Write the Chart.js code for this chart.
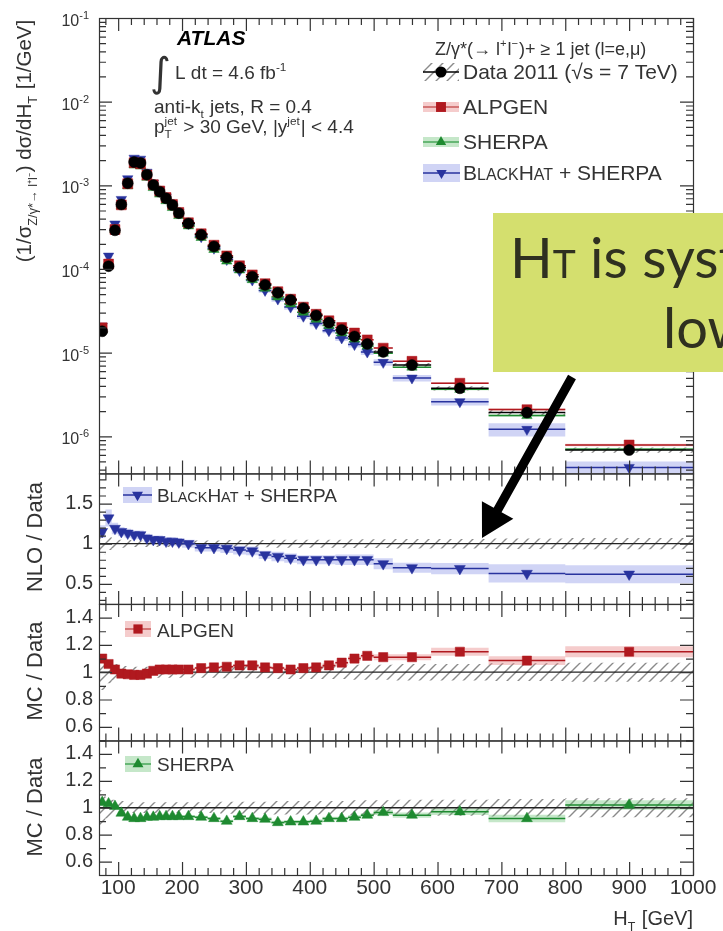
<!DOCTYPE html>
<html>
<head>
<meta charset="utf-8">
<title>HT Z+jets</title>
<script src="https://cdn.jsdelivr.net/npm/chart.js@4.4.1/dist/chart.umd.min.js"></script>
<style>
  html, body { margin: 0; padding: 0; background: #fff; }
  body { width: 723px; height: 931px; overflow: hidden; }
  canvas { display: block; }
</style>
</head>
<body>
<canvas id="grafica" width="723" height="931"></canvas>
<script>
// ===============================
// Datos
const binEdges = [70, 80, 90, 100, 110, 120, 130, 140, 150, 160, 170, 180, 190, 200,
  220, 240, 260, 280, 300, 320, 340, 360, 380, 400, 420, 440, 460, 480, 500,
  530, 590, 680, 800, 1000];
const htCenters = [75, 85, 95, 105, 115, 125, 135, 145, 155, 165, 175, 185, 195,
  210, 230, 250, 270, 290, 310, 330, 350, 370, 390, 410, 430, 450, 470, 490,
  515, 560, 635, 740, 900];
const dataXsec = [1.8e-5, 1.08e-4, 2.9e-4, 5.9e-4, 1.06e-3, 1.9e-3, 1.85e-3, 1.34e-3, 1.01e-3, 8.4e-4, 7.0e-4, 5.8e-4, 4.65e-4,
  3.5e-4, 2.56e-4, 1.86e-4, 1.38e-4, 1.04e-4, 8.1e-5, 6.45e-5, 5.2e-5, 4.27e-5, 3.4e-5, 2.78e-5, 2.29e-5, 1.87e-5, 1.56e-5, 1.27e-5,
  1.02e-5, 7.1e-6, 3.75e-6, 1.92e-6, 6.85e-7];
const dataRelErr = [0.13, 0.08, 0.06, 0.05, 0.045, 0.04, 0.04, 0.04, 0.04, 0.04, 0.04, 0.04, 0.04,
  0.04, 0.04, 0.04, 0.045, 0.045, 0.045, 0.045, 0.05, 0.05, 0.05, 0.05, 0.05, 0.05, 0.055, 0.055,
  0.055, 0.06, 0.06, 0.065, 0.07];
const nloRatio = [1.15, 1.32, 1.19, 1.15, 1.13, 1.11, 1.11, 1.07, 1.05, 1.05, 1.03, 1.03, 1.02,
  1.00, 0.95, 0.95, 0.94, 0.92, 0.91, 0.86, 0.84, 0.82, 0.80, 0.80, 0.80, 0.80, 0.80, 0.80,
  0.75, 0.70, 0.69, 0.63, 0.62];
const nloRelErr = [0.07, 0.08, 0.06, 0.05, 0.05, 0.05, 0.05, 0.05, 0.05, 0.05, 0.05, 0.05, 0.05,
  0.05, 0.05, 0.05, 0.06, 0.06, 0.06, 0.06, 0.07, 0.07, 0.07, 0.07, 0.07, 0.08, 0.08, 0.08,
  0.09, 0.09, 0.1, 0.18, 0.18];
const alpgenRatio = [1.10, 1.06, 1.02, 0.99, 0.985, 0.98, 0.98, 0.99, 1.01, 1.02, 1.02, 1.02, 1.02,
  1.02, 1.03, 1.035, 1.04, 1.05, 1.05, 1.035, 1.03, 1.02, 1.03, 1.035, 1.05, 1.07, 1.10, 1.12,
  1.11, 1.11, 1.15, 1.085, 1.15];
const alpgenRelErr = [0.01, 0.01, 0.01, 0.01, 0.01, 0.01, 0.01, 0.01, 0.01, 0.01, 0.01, 0.01, 0.01,
  0.01, 0.01, 0.01, 0.01, 0.01, 0.01, 0.012, 0.012, 0.012, 0.012, 0.012, 0.015, 0.015, 0.015, 0.015,
  0.02, 0.02, 0.025, 0.03, 0.035];
const sherpaRatio = [1.04, 1.03, 1.01, 0.96, 0.93, 0.92, 0.92, 0.93, 0.93, 0.935, 0.935, 0.935, 0.935,
  0.935, 0.93, 0.92, 0.90, 0.935, 0.92, 0.915, 0.89, 0.895, 0.895, 0.90, 0.92, 0.92, 0.93, 0.945,
  0.965, 0.945, 0.97, 0.92, 1.02];
const sherpaRelErr = [0.01, 0.01, 0.01, 0.01, 0.01, 0.01, 0.01, 0.01, 0.01, 0.01, 0.01, 0.01, 0.01,
  0.012, 0.012, 0.012, 0.012, 0.012, 0.012, 0.015, 0.015, 0.015, 0.015, 0.015, 0.015, 0.015, 0.015, 0.015,
  0.02, 0.02, 0.025, 0.03, 0.035];

// Marcas de los ejes
const xTickValues = [100, 200, 300, 400, 500, 600, 700, 800, 900, 1000];
const logTickValues = [1e-6, 1e-5, 1e-4, 1e-3, 1e-2, 1e-1];
const nloTickValues = [0.5, 1, 1.5];
const mcTickValues = [0.6, 0.8, 1, 1.2, 1.4];

// ===============================
// Estilos
const FAMILIA = '"Liberation Sans", Arial, Helvetica, sans-serif';
const COL = { alp: '#b0191f', she: '#1e8a30', bh: '#28339e', texto: '#333' };
const BANDA = { alp: 'rgba(225,110,110,0.35)', she: 'rgba(90,185,100,0.35)', bh: 'rgba(110,120,225,0.32)' };
const TOP_MIN = 3.6e-7, TOP_MAX = 0.1;

function crearRayado(color, paso, grosor) {
  const c = document.createElement('canvas');
  c.width = c.height = paso;
  const g = c.getContext('2d');
  g.strokeStyle = color;
  g.lineWidth = grosor;
  g.beginPath();
  g.moveTo(0, paso); g.lineTo(paso, 0);
  g.moveTo(-paso / 2, paso / 2); g.lineTo(paso / 2, -paso / 2);
  g.moveTo(paso / 2, paso * 1.5); g.lineTo(paso * 1.5, paso / 2);
  g.stroke();
  return g.createPattern(c, 'repeat');
}
const rayado = crearRayado('#8a8a8a', 11, 1.4);

const uno = htCenters.map(() => 1);
const alpgenTop = dataXsec.map((v, i) => v * alpgenRatio[i]);
const sherpaTop = dataXsec.map((v, i) => v * sherpaRatio[i]);
const nloTop = dataXsec.map((v, i) => v * nloRatio[i]);

function puntos(ys) {
  return htCenters.map((x, i) => ({ x, y: ys[i] }));
}

// Banda escalonada por bin (borde inferior o superior)
function banda(centro, rel, signo, yMin, yMax) {
  const p = htCenters.map((_, i) => ({
    x: binEdges[i],
    y: Math.min(yMax, Math.max(yMin, centro[i] * (1 + signo * rel[i])))
  }));
  p.push({ x: binEdges[binEdges.length - 1], y: p[p.length - 1].y });
  return p;
}

function parBanda(eje, centro, rel, relleno, yMin, yMax, orden) {
  const base = { type: 'line', yAxisID: eje, stepped: true, pointRadius: 0,
    borderColor: 'rgba(0,0,0,0)', borderWidth: 0, order: orden };
  return [
    { ...base, data: banda(centro, rel, -1, yMin, yMax), fill: false },
    { ...base, data: banda(centro, rel, 1, yMin, yMax), fill: '-1', backgroundColor: relleno }
  ];
}

function marcadores(eje, ys, estilo, color, radio, giro, colorBarra, orden, unidad) {
  return { type: 'scatter', yAxisID: eje, data: puntos(ys), pointStyle: estilo,
    pointRadius: radio, pointRotation: giro, backgroundColor: color, borderColor: color,
    borderWidth: 0.5, showLine: false, colorBarra, order: orden, unidad: !!unidad };
}

const datasets = [
  // Panel superior
  marcadores('yTop', dataXsec, 'circle', '#000', 5.5, 0, '#000', 0),
  marcadores('yTop', alpgenTop, 'rect', COL.alp, 7, 0, COL.alp, 1),
  marcadores('yTop', sherpaTop, 'triangle', COL.she, 6, 0, COL.she, 2),
  marcadores('yTop', nloTop, 'triangle', COL.bh, 6, 180, COL.bh, 3),
  ...parBanda('yTop', dataXsec, dataRelErr, rayado, TOP_MIN, TOP_MAX, 4),
  ...parBanda('yTop', nloTop, nloRelErr, BANDA.bh, TOP_MIN, TOP_MAX, 5),
  ...parBanda('yTop', alpgenTop, alpgenRelErr, BANDA.alp, TOP_MIN, TOP_MAX, 6),
  ...parBanda('yTop', sherpaTop, sherpaRelErr, BANDA.she, TOP_MIN, TOP_MAX, 6),
  // NLO / Data
  marcadores('yNLO', nloRatio, 'triangle', COL.bh, 6.3, 180, COL.bh, 0, true),
  ...parBanda('yNLO', uno, dataRelErr, rayado, 0.25, 1.875, 3),
  ...parBanda('yNLO', nloRatio, nloRelErr, BANDA.bh, 0.25, 1.875, 2),
  // ALPGEN / Data
  marcadores('yALP', alpgenRatio, 'rect', COL.alp, 6.5, 0, COL.alp, 0, true),
  ...parBanda('yALP', uno, dataRelErr, rayado, 0.5, 1.5, 3),
  ...parBanda('yALP', alpgenRatio, alpgenRelErr, BANDA.alp, 0.5, 1.5, 2),
  // SHERPA / Data
  marcadores('ySHE', sherpaRatio, 'triangle', COL.she, 6.3, 0, COL.she, 0, true),
  ...parBanda('ySHE', uno, dataRelErr, rayado, 0.5, 1.5, 3),
  ...parBanda('ySHE', sherpaRatio, sherpaRelErr, BANDA.she, 0.5, 1.5, 2)
];

// ===============================
// Texto con subíndices / superíndices
function texto(c, partes, x, y, tam, alinear, color, estilo) {
  const items = [];
  let total = 0;
  partes.forEach(p => {
    let it;
    if (typeof p === 'string') {
      c.font = (estilo || '') + tam + 'px ' + FAMILIA;
      it = { t: p, s: tam, w: c.measureText(p).width };
    } else if (p.sc) {
      const s = tam * 0.76;
      c.font = s + 'px ' + FAMILIA;
      it = { t: p.sc, s, w: c.measureText(p.sc).width };
    } else {
      const s = tam * 0.62;
      c.font = s + 'px ' + FAMILIA;
      const w1 = p.sub ? c.measureText(p.sub).width : 0;
      const w2 = p.sup ? c.measureText(p.sup).width : 0;
      it = { sub: p.sub, sup: p.sup, s, w: Math.max(w1, w2) + 1 };
    }
    items.push(it);
    total += it.w;
  });
  let cx = alinear === 'center' ? x - total / 2 : alinear === 'right' ? x - total : x;
  c.fillStyle = color;
  c.textAlign = 'left';
  c.textBaseline = 'alphabetic';
  items.forEach(it => {
    c.font = (it.t !== undefined && it.s === tam ? (estilo || '') : '') + it.s + 'px ' + FAMILIA;
    if (it.t !== undefined) c.fillText(it.t, cx, y);
    if (it.sub) c.fillText(it.sub, cx, y + tam * 0.28);
    if (it.sup) c.fillText(it.sup, cx, y - tam * 0.42);
    cx += it.w;
  });
  return total;
}

function forma(c, estilo, x, y, r, color) {
  c.fillStyle = color;
  c.beginPath();
  if (estilo === 'circle') {
    c.arc(x, y, r, 0, Math.PI * 2);
  } else if (estilo === 'rect') {
    const h = r * Math.SQRT1_2;
    c.rect(x - h, y - h, 2 * h, 2 * h);
  } else {
    const giro = estilo === 'down' ? Math.PI : 0;
    for (let k = 0; k < 3; k++) {
      const a = giro + k * 2 * Math.PI / 3;
      const px = x + Math.sin(a) * r, py = y - Math.cos(a) * r;
      if (k === 0) c.moveTo(px, py); else c.lineTo(px, py);
    }
    c.closePath();
  }
  c.fill();
}

function simbolo(c, x1, x2, y, altoBanda, relleno, colorLinea, estilo, r, color) {
  if (relleno) {
    c.fillStyle = relleno;
    c.fillRect(x1, y - altoBanda / 2, x2 - x1, altoBanda);
  }
  c.strokeStyle = colorLinea;
  c.lineWidth = 1.5;
  c.beginPath(); c.moveTo(x1, y); c.lineTo(x2, y); c.stroke();
  forma(c, estilo, (x1 + x2) / 2, y, r, color);
}

// ===============================
// Barras de bin y línea en 1
const barrasPlugin = {
  id: 'barras',
  beforeDatasetDraw(chart, args) {
    const ds = chart.data.datasets[args.index];
    if (!ds.colorBarra) return;
    const c = chart.ctx, xs = chart.scales.x, ys = chart.scales[ds.yAxisID];
    const { left, right } = chart.chartArea;
    c.save();
    if (ds.unidad) {
      const py = ys.getPixelForValue(1);
      c.strokeStyle = '#222';
      c.lineWidth = 1.3;
      c.beginPath(); c.moveTo(left, py); c.lineTo(right, py); c.stroke();
    }
    c.strokeStyle = ds.colorBarra;
    c.lineWidth = 1.5;
    c.beginPath();
    ds.data.forEach((p, i) => {
      const py = ys.getPixelForValue(p.y);
      c.moveTo(xs.getPixelForValue(binEdges[i]), py);
      c.lineTo(xs.getPixelForValue(binEdges[i + 1]), py);
    });
    c.stroke();
    c.restore();
  }
};

// Marco estilo ROOT con marcas hacia dentro
const paneles = [
  { id: 'yTop', log: true },
  { id: 'yNLO', menor: 0.1 },
  { id: 'yALP', menor: 0.1 },
  { id: 'ySHE', menor: 0.1 }
];

const marcoPlugin = {
  id: 'marco',
  afterDatasetsDraw(chart) {
    const c = chart.ctx, xs = chart.scales.x;
    const { left, right } = chart.chartArea;
    c.save();
    c.strokeStyle = '#333';
    c.lineWidth = 1.2;
    paneles.forEach(p => {
      const s = chart.scales[p.id];
      const top = s.top, bot = s.bottom;
      c.strokeRect(left + 0.5, top + 0.5, right - left, bot - top);
      c.beginPath();
      for (let v = Math.ceil(xs.min / 20) * 20; v <= xs.max; v += 20) {
        const px = xs.getPixelForValue(v) + 0.5;
        const len = v % 100 === 0 ? 13 : 7;
        c.moveTo(px, top); c.lineTo(px, top + len);
        c.moveTo(px, bot); c.lineTo(px, bot - len);
      }
      const marcaY = (v, mayor) => {
        const py = s.getPixelForValue(v) + 0.5;
        const len = mayor ? 13 : 7;
        c.moveTo(left, py); c.lineTo(left + len, py);
        c.moveTo(right, py); c.lineTo(right - len, py);
      };
      if (p.log) {
        for (let e = Math.floor(Math.log10(s.min)); e <= Math.ceil(Math.log10(s.max)); e++) {
          for (let m = 1; m <= 9; m++) {
            const v = m * Math.pow(10, e);
            if (v >= s.min && v <= s.max * 1.0001) marcaY(v, m === 1);
          }
        }
      } else {
        for (let v = Math.ceil(s.min / p.menor - 1e-6) * p.menor; v <= s.max + 1e-6; v += p.menor) {
          const mayor = s.ticks.some(t => Math.abs(t.value - v) < 1e-6);
          marcaY(v, mayor);
        }
      }
      c.stroke();
    });
    c.restore();
  },
  afterDraw(chart) {
    const c = chart.ctx;
    const yTop = chart.scales.yTop;
    c.save();

    // Etiquetas 10^n del eje logarítmico
    logTickValues.forEach(v => {
      const py = yTop.getPixelForValue(v);
      const exp = String(Math.round(Math.log10(v)));
      c.font = '11px ' + FAMILIA;
      const wE = c.measureText(exp).width;
      c.fillStyle = COL.texto;
      c.textAlign = 'right';
      c.textBaseline = 'alphabetic';
      c.font = '16px ' + FAMILIA;
      c.fillText('10', 89 - wE, py + 8);
      c.textAlign = 'left';
      c.font = '11px ' + FAMILIA;
      c.fillText(exp, 89 - wE, py + 1);
    });

    // Títulos de los ejes
    const vertical = (partes, xBase, yCentro, tam) => {
      c.save();
      c.translate(xBase, yCentro);
      c.rotate(-Math.PI / 2);
      texto(c, partes, 0, 0, tam, 'center', COL.texto);
      c.restore();
    };
    vertical(['(1/σ', { sub: 'Z/γ*→ l⁺l⁻' }, ') dσ/dH', { sub: 'T' }, ' [1/GeV]'], 31, 141, 20.5);
    vertical(['NLO / Data'], 42, 537, 22);
    vertical(['MC / Data'], 42, 671, 22);
    vertical(['MC / Data'], 42, 807, 22);
    texto(c, ['H', { sub: 'T' }, ' [GeV]'], 693, 925, 20, 'right', COL.texto);

    // Información ATLAS
    texto(c, ['ATLAS'], 177, 45, 21, 'left', '#000', 'italic bold ');
    c.fillStyle = COL.texto;
    c.font = '40px "DejaVu Sans"';
    c.textAlign = 'left';
    c.fillText('∫', 150, 86);
    texto(c, ['L dt = 4.6 fb', { sup: '-1' }], 175, 79, 19, 'left', COL.texto);
    texto(c, ['anti-k', { sub: 't' }, ' jets, R = 0.4'], 154, 113, 19, 'left', COL.texto);
    texto(c, ['p', { sub: 'T', sup: 'jet' }, ' > 30 GeV, |y', { sup: 'jet' }, '| < 4.4'], 154, 133, 19, 'left', COL.texto);

    // Leyenda superior
    texto(c, ['Z/γ*(→ l', { sup: '+' }, 'l', { sup: '−' }, ')+ ≥ 1 jet (l=e,μ)'], 435, 55, 18, 'left', COL.texto);
    simbolo(c, 423, 459, 72, 18, rayado, '#000', 'circle', 5.5, '#000');
    texto(c, ['Data 2011 (√s = 7 TeV)'], 463, 79, 21, 'left', COL.texto);
    simbolo(c, 423, 459, 107, 10, BANDA.alp, 'rgba(190,60,60,0.8)', 'rect', 7, COL.alp);
    texto(c, ['ALPGEN'], 463, 114, 21, 'left', COL.texto);
    simbolo(c, 423, 459, 142, 10, BANDA.she, 'rgba(40,150,60,0.8)', 'up', 6, COL.she);
    texto(c, ['SHERPA'], 463, 149, 21, 'left', COL.texto);
    simbolo(c, 423, 460, 173, 18, BANDA.bh, COL.bh, 'down', 6, COL.bh);
    texto(c, ['B', { sc: 'LACK' }, 'H', { sc: 'AT' }, ' + SHERPA'], 463, 180, 21, 'left', COL.texto);

    // Leyendas de los paneles de cociente
    simbolo(c, 123, 152, 495, 16, BANDA.bh, COL.bh, 'down', 6.3, COL.bh);
    texto(c, ['B', { sc: 'LACK' }, 'H', { sc: 'AT' }, ' + SHERPA'], 157, 502, 19, 'left', COL.texto);
    simbolo(c, 125, 151, 629, 16, BANDA.alp, 'rgba(190,60,60,0.8)', 'rect', 6.5, COL.alp);
    texto(c, ['ALPGEN'], 157, 637, 19, 'left', COL.texto);
    simbolo(c, 125, 151, 764, 16, BANDA.she, 'rgba(40,150,60,0.8)', 'up', 6.3, COL.she);
    texto(c, ['SHERPA'], 157, 771, 19, 'left', COL.texto);

    // Recuadro de comentario y flecha
    c.fillStyle = '#d4df6e';
    c.fillRect(493, 213, 240, 159);
    c.fillStyle = '#2f3020';
    c.textAlign = 'left';
    c.textBaseline = 'alphabetic';
    c.font = '56px Lato, "Open Sans", sans-serif';
    c.fillText('H', 510, 278);
    let cx = 510 + c.measureText('H').width;
    c.font = '39px Lato, "Open Sans", sans-serif';
    c.fillText('T', cx, 278);
    cx += c.measureText('T').width;
    c.font = '56px Lato, "Open Sans", sans-serif';
    c.fillText(' is systematically', cx, 278);
    c.fillText('lower', 663, 348);

    const cola = [572, 377], punta = [482, 538];
    const dx = punta[0] - cola[0], dy = punta[1] - cola[1];
    const L = Math.hypot(dx, dy), ux = dx / L, uy = dy / L, nx = -uy, ny = ux;
    const base = [punta[0] - ux * 32, punta[1] - uy * 32];
    const a = 4.5, b = 18;
    c.fillStyle = '#000';
    c.beginPath();
    c.moveTo(cola[0] + nx * a, cola[1] + ny * a);
    c.lineTo(base[0] + nx * a, base[1] + ny * a);
    c.lineTo(base[0] + nx * b, base[1] + ny * b);
    c.lineTo(punta[0], punta[1]);
    c.lineTo(base[0] - nx * b, base[1] - ny * b);
    c.lineTo(base[0] - nx * a, base[1] - ny * a);
    c.lineTo(cola[0] - nx * a, cola[1] - ny * a);
    c.closePath();
    c.fill();
    c.restore();
  }
};

// ===============================
// Ejes apilados: un panel por eje y
function ejeRatio(min, max, valores, peso, altura) {
  return {
    type: 'linear', position: 'left', stack: 'paneles', stackWeight: altura, weight: peso,
    min, max,
    grid: { display: false, drawTicks: false }, border: { display: false },
    afterBuildTicks: s => { s.ticks = valores.map(v => ({ value: v })); },
    afterFit: s => { s.width = 99; },
    ticks: { autoSkip: false, padding: 6, color: COL.texto, font: { family: FAMILIA, size: 20 },
      callback: v => String(+Number(v).toFixed(2)) }
  };
}

const grafica = new Chart(document.getElementById('grafica').getContext('2d'), {
  type: 'scatter',
  data: { datasets },
  options: {
    responsive: false,
    animation: false,
    devicePixelRatio: 1,
    events: [],
    layout: { padding: { top: 15, right: 30, left: 0, bottom: 0 } },
    plugins: { legend: { display: false }, tooltip: { enabled: false } },
    scales: {
      x: {
        type: 'linear', position: 'bottom', min: 70, max: 1000,
        grid: { display: false, drawTicks: false }, border: { display: false },
        afterBuildTicks: s => { s.ticks = xTickValues.map(v => ({ value: v })); },
        afterFit: s => { s.height = 56; },
        ticks: { autoSkip: false, maxRotation: 0, padding: 1, color: COL.texto,
          font: { family: FAMILIA, size: 21 }, callback: v => String(v) }
      },
      ySHE: ejeRatio(0.5, 1.5, mcTickValues, 1, 135),
      yALP: ejeRatio(0.5, 1.5, mcTickValues, 2, 137),
      yNLO: ejeRatio(0.25, 1.875, nloTickValues, 3, 131),
      yTop: {
        type: 'logarithmic', position: 'left', stack: 'paneles', stackWeight: 457, weight: 4,
        min: TOP_MIN, max: TOP_MAX,
        grid: { display: false, drawTicks: false }, border: { display: false },
        afterBuildTicks: s => { s.ticks = logTickValues.map(v => ({ value: v })); },
        afterFit: s => { s.width = 99; },
        ticks: { display: false }
      }
    }
  },
  plugins: [barrasPlugin, marcoPlugin]
});
</script>
</body>
</html>
